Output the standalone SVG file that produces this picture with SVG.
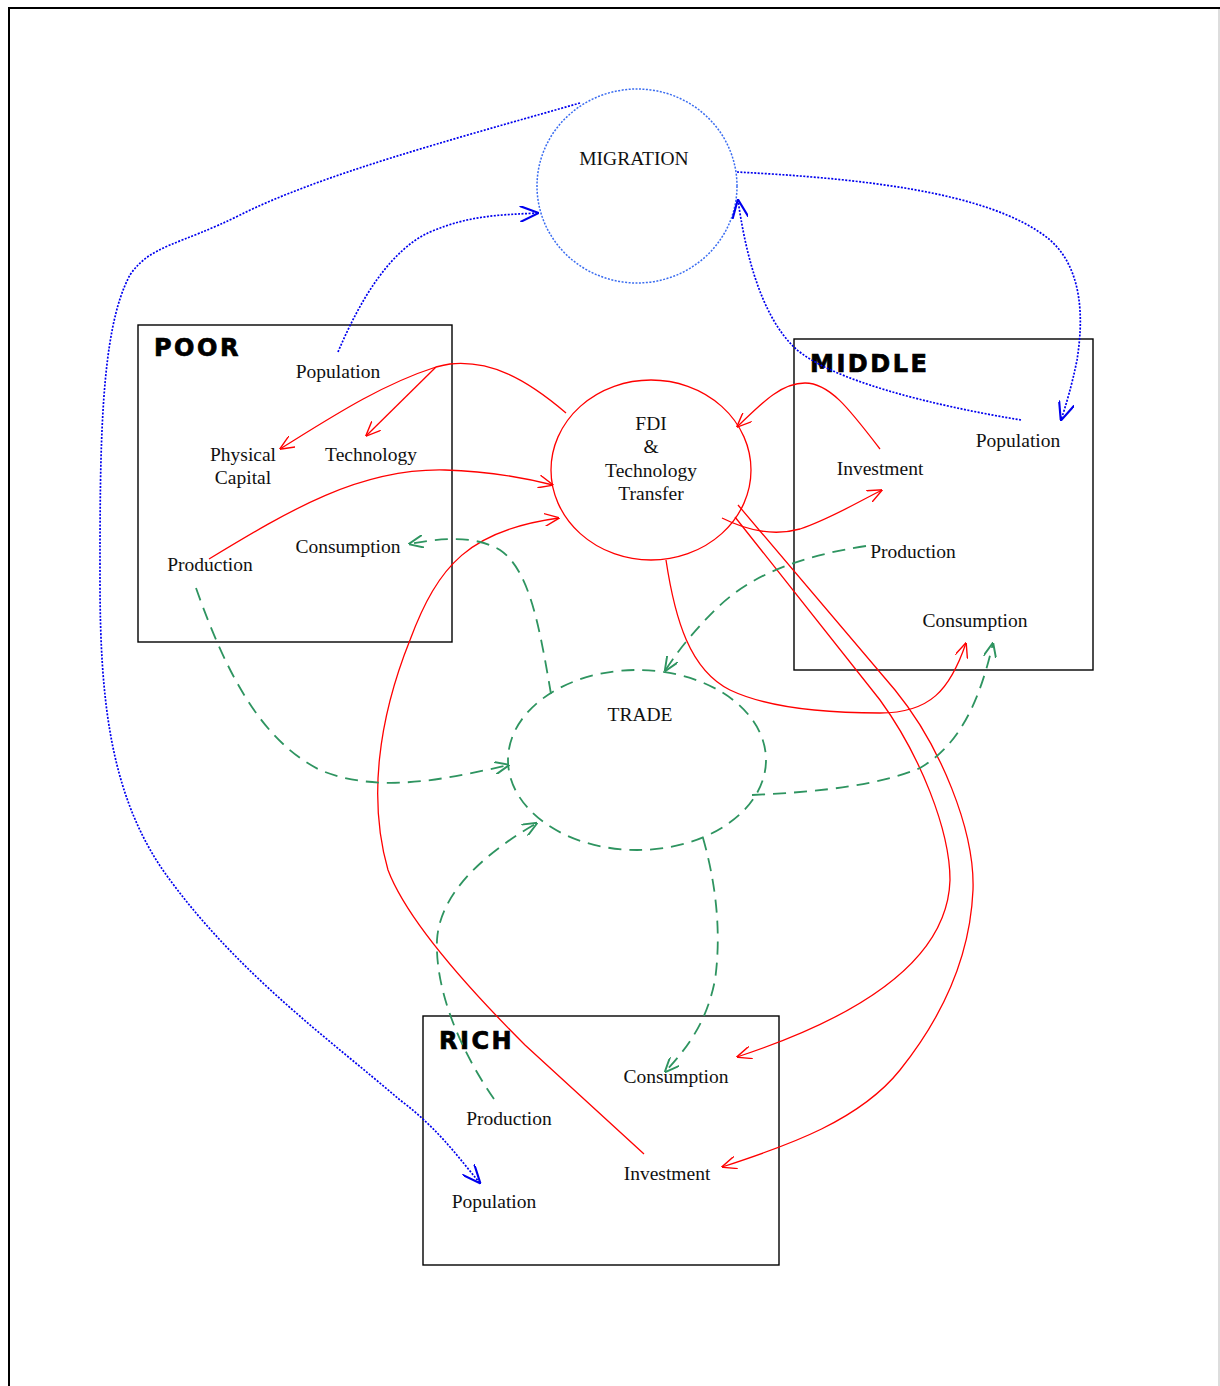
<svg xmlns="http://www.w3.org/2000/svg" width="1220" height="1386" viewBox="0 0 1220 1386">
<style>
  .lbl{font-family:"Liberation Serif","Times New Roman",serif;font-size:19.5px;fill:#111;text-anchor:middle}
  .title{font-family:"DejaVu Sans",Arial,sans-serif;font-weight:bold;font-size:24px;letter-spacing:2.5px;fill:#000;stroke:#000;stroke-width:0.7}
  .box{fill:none;stroke:#000;stroke-width:1.4}
  .red{fill:none;stroke:#ff0000;stroke-width:1.3}
  .grn{fill:none;stroke:#2e9460;stroke-width:1.8;stroke-dasharray:13 8}
  .blu{fill:none;stroke:#0000ee;stroke-width:1.7;stroke-dasharray:2 1.5}
</style>
<defs>
  <marker id="ar" viewBox="0 0 14 12" refX="13.5" refY="6" markerWidth="15" markerHeight="13" markerUnits="userSpaceOnUse" orient="auto">
    <path d="M0,0 L14,6 L0,12" fill="none" stroke="#ff0000" stroke-width="1.3"/>
  </marker>
  <marker id="ag" viewBox="0 0 14 12" refX="13.5" refY="6" markerWidth="15" markerHeight="13" markerUnits="userSpaceOnUse" orient="auto">
    <path d="M0,0 L14,6 L0,12" fill="none" stroke="#2e9460" stroke-width="1.8"/>
  </marker>
  <marker id="ab" viewBox="0 0 14 12" refX="13.5" refY="6" markerWidth="19" markerHeight="16" markerUnits="userSpaceOnUse" orient="auto">
    <path d="M0,0 L14,6 L0,12" fill="none" stroke="#0000ee" stroke-width="1.6"/>
  </marker>
</defs>
<rect x="0" y="0" width="1220" height="1386" fill="#fff"/>
<path d="M9,1386 L9,8 L1220,8" fill="none" stroke="#000" stroke-width="2"/>
<line x1="1219" y1="9" x2="1219" y2="1386" stroke="#bbb" stroke-width="1"/>

<g id="poor">
  <rect class="box" x="138" y="325" width="314" height="317"/>
  <text class="title" x="154" y="356">POOR</text>
  <text class="lbl" x="338" y="378">Population</text>
  <text class="lbl" x="243" y="461">Physical</text>
  <text class="lbl" x="243" y="484">Capital</text>
  <text class="lbl" x="371" y="461">Technology</text>
  <text class="lbl" x="348" y="553">Consumption</text>
  <text class="lbl" x="210" y="571">Production</text>
</g>
<g id="middle">
  <rect class="box" x="794" y="339" width="299" height="331"/>
  <text class="title" x="810" y="372">MIDDLE</text>
  <text class="lbl" x="1018" y="447">Population</text>
  <text class="lbl" x="880" y="475">Investment</text>
  <text class="lbl" x="913" y="558">Production</text>
  <text class="lbl" x="975" y="627">Consumption</text>
</g>
<g id="rich">
  <rect class="box" x="423" y="1016" width="356" height="249"/>
  <text class="title" x="439" y="1049">RICH</text>
  <text class="lbl" x="676" y="1083">Consumption</text>
  <text class="lbl" x="509" y="1125">Production</text>
  <text class="lbl" x="667" y="1180">Investment</text>
  <text class="lbl" x="494" y="1208">Population</text>
</g>
<g id="migration">
  <ellipse cx="637" cy="186" rx="100" ry="97" fill="none" stroke="#3a6cf0" stroke-width="1.5" stroke-dasharray="2 1.5"/>
  <text class="lbl" x="634" y="165">MIGRATION</text>
</g>
<g id="fdi">
  <ellipse cx="651" cy="470" rx="100" ry="90" fill="none" stroke="#ff0000" stroke-width="1.3"/>
  <text class="lbl" x="651" y="430">FDI</text>
  <text class="lbl" x="651" y="453">&amp;</text>
  <text class="lbl" x="651" y="477">Technology</text>
  <text class="lbl" x="651" y="500">Transfer</text>
</g>
<g id="trade">
  <ellipse cx="637" cy="760" rx="129" ry="90" fill="none" stroke="#2e9460" stroke-width="1.8" stroke-dasharray="13 8"/>
  <text class="lbl" x="640" y="721">TRADE</text>
</g>

<g id="connectors">
  <!-- red: FDI / investment flows -->
  <path class="red" d="M566,413 C 525,378 490,360 450,364 C 444,365 440,366 436,367"/>
  <path class="red" d="M436,367 C 380,385 330,418 280,449" marker-end="url(#ar)"/>
  <path class="red" d="M436,367 L366,436" marker-end="url(#ar)"/>
  <path class="red" d="M209,559 C 290,510 360,468 445,470 C 490,471 525,478 553,485" marker-end="url(#ar)"/>
  <path class="red" d="M644,1154 L 525,1045 C 460,980 405,915 388,870 C 368,800 378,720 410,640 C 438,565 470,530 559,518" marker-end="url(#ar)"/>
  <path class="red" d="M722,518 C 750,532 775,536 800,529 C 830,519 860,501 882,490" marker-end="url(#ar)"/>
  <path class="red" d="M880,449 C 850,410 830,383 805,383 C 780,383 760,405 737,427" marker-end="url(#ar)"/>
  <path class="red" d="M666,560 C 675,620 690,670 730,690 C 770,709 830,713 880,713 C 930,713 950,690 966,643" marker-end="url(#ar)"/>
  <path class="red" d="M735,517 L 880,700 C 920,755 950,830 950,880 C 948,950 880,1010 737,1057" marker-end="url(#ar)"/>
  <path class="red" d="M738,505 L 895,690 C 940,745 975,830 973,890 C 970,960 940,1020 900,1070 C 860,1120 790,1145 722,1167" marker-end="url(#ar)"/>

  <!-- green: trade flows -->
  <path class="grn" d="M196,588 C 225,670 260,740 320,770 C 380,795 450,778 509,765" marker-end="url(#ag)"/>
  <path class="grn" d="M551,694 C 540,630 530,570 500,550 C 475,535 440,538 409,544" marker-end="url(#ag)"/>
  <path class="grn" d="M866,546 C 800,556 750,575 715,610 C 690,635 675,655 665,671" marker-end="url(#ag)"/>
  <path class="grn" d="M752,795 C 820,792 880,785 920,768 C 960,745 980,700 993,643" marker-end="url(#ag)"/>
  <path class="grn" d="M494,1099 C 460,1050 435,990 437,940 C 440,890 490,850 537,823" marker-end="url(#ag)"/>
  <path class="grn" d="M703,838 C 715,880 722,930 715,980 C 707,1020 690,1045 665,1072" marker-end="url(#ag)"/>

  <!-- blue: migration flows -->
  <path class="blu" d="M580,103 C 450,140 320,175 240,215 C 180,245 150,245 130,275 C 100,330 100,450 100,580 C 100,700 110,800 170,880 C 240,975 330,1040 400,1100 C 440,1130 460,1160 480,1183" marker-end="url(#ab)"/>
  <path class="blu" d="M338,352 C 360,300 390,250 430,232 C 470,215 500,215 538,213" marker-end="url(#ab)"/>
  <path class="blu" d="M737,172 C 850,178 990,190 1050,240 C 1090,275 1080,340 1077,360 C 1072,385 1066,405 1061,420" marker-end="url(#ab)"/>
  <path class="blu" d="M1021,420 C 930,405 830,380 795,348 C 760,315 745,250 738,200" marker-end="url(#ab)"/>
</g>
</svg>
